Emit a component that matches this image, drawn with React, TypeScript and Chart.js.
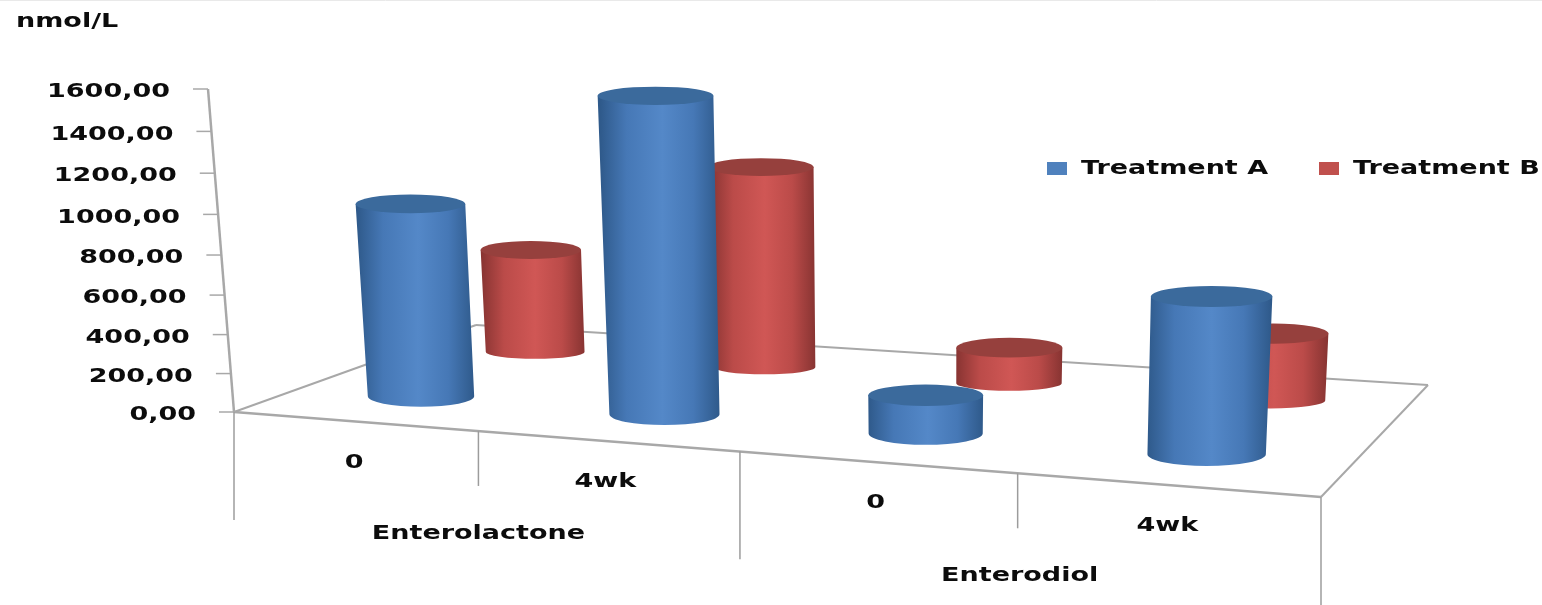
import React, { useEffect, useRef } from "react";
import { Chart, BarController, LinearScale, registerables } from "chart.js";

// Measured concentrations per compound and time point
const timePoints = ["0", "4wk", "0", "4wk"];
const compounds = ["Enterolactone", "Enterodiol"];
const treatmentA = [995, 1560, 190, 740];
const treatmentB = [575, 1075, 190, 345];
const unitLabel = "nmol/L";

const WIDTH = 1542;
const HEIGHT = 605;
const FONT = 'bold 20px "DejaVu Sans"';
const TEXT_STRETCH = 1.35;
const TEXT_COLOR = "#0c0c0c";
const FRAME_COLOR = "#a8a8a8";
const DIVIDER_COLOR = "#9c9c9c";

const blueShades = { edge: "#2f5a8b", mid: "#4678b6", light: "#5488c8", cap: "#3b6a9c", swatch: "#4f81bd" };
const redShades = { edge: "#883432", mid: "#bb4b49", light: "#d05755", cap: "#96403d", swatch: "#c0504d" };

type Pt = { x: number; y: number };
type Area = { left: number; right: number; top: number; bottom: number; width: number };

// Perspective map from the unit floor square (u along the front, v into the depth) to the canvas.
function floorOf(area: Area) {
  const fl = { x: area.left, y: area.bottom };
  const fr = { x: area.right, y: area.bottom + 85 };
  const br = { x: area.right + 107, y: area.bottom - 27 };
  const bl = { x: area.left + 242, y: area.bottom - 87 };
  const dx1 = fr.x - br.x, dx2 = bl.x - br.x, sx = fl.x - fr.x + br.x - bl.x;
  const dy1 = fr.y - br.y, dy2 = bl.y - br.y, sy = fl.y - fr.y + br.y - bl.y;
  const den = dx1 * dy2 - dx2 * dy1;
  const g = (sx * dy2 - dx2 * sy) / den;
  const h = (dx1 * sy - sx * dy1) / den;
  const a = fr.x - fl.x + g * fr.x, b = bl.x - fl.x + h * bl.x;
  const d = fr.y - fl.y + g * fr.y, e = bl.y - fl.y + h * bl.y;
  const project = (u: number, v: number) => {
    const w = 1 / (g * u + h * v + 1);
    return { x: (a * u + b * v + fl.x) * w, y: (d * u + e * v + fl.y) * w, w };
  };
  return { project, corners: [fl, fr, br, bl] as Pt[] };
}

function wideText(ctx: CanvasRenderingContext2D, text: string, x: number, y: number, align: CanvasTextAlign) {
  ctx.save();
  ctx.font = FONT;
  ctx.fillStyle = TEXT_COLOR;
  ctx.textBaseline = "middle";
  ctx.textAlign = align;
  ctx.translate(x, y + 2);
  ctx.scale(TEXT_STRETCH, 1);
  ctx.fillText(text, 0, 0);
  ctx.restore();
}

function strokeLine(ctx: CanvasRenderingContext2D, from: Pt, to: Pt, color: string, width: number) {
  ctx.strokeStyle = color;
  ctx.lineWidth = width;
  ctx.beginPath();
  ctx.moveTo(from.x, from.y);
  ctx.lineTo(to.x, to.y);
  ctx.stroke();
}

// Value axis standing on the floor corner: slightly foreshortened and leaning towards the viewer.
class WallScale extends LinearScale {
  static id = "wallLinear";
  static defaults = LinearScale.defaults;

  getPixelForDecimal(decimal: number) {
    const warp = -0.0576;
    return super.getPixelForDecimal(decimal / (1 - warp + warp * decimal));
  }
  axisX(pixel: number) {
    const { left, top, bottom } = this.chart.chartArea;
    return left - 26 * (bottom - pixel) / (bottom - top);
  }
  drawBorder() {
    const ctx = this.ctx;
    const { top, bottom } = this.chart.chartArea;
    ctx.save();
    strokeLine(ctx, { x: this.axisX(top), y: top }, { x: this.axisX(bottom), y: bottom }, FRAME_COLOR, 2.5);
    for (const tick of this.ticks) {
      const y = this.getPixelForValue(tick.value);
      const x = this.axisX(y);
      strokeLine(ctx, { x: x - 15, y }, { x, y }, FRAME_COLOR, 1.5);
    }
    ctx.restore();
  }
  drawLabels() {
    for (const tick of this.ticks) {
      const y = this.getPixelForValue(tick.value);
      wideText(this.ctx, String(tick.label), this.axisX(y) - 38, y + 1, "right");
    }
  }
}

// Bar controller whose elements are painted as shaded cylinders standing on the floor.
class CylinderController extends BarController {
  static id = "cylinder";
  static defaults = BarController.defaults;
  static overrides = BarController.overrides;

  draw() {
    const chart = this.chart;
    const ctx = chart.ctx;
    const area = chart.chartArea;
    const floor = floorOf(area);
    const depth = (this.index + 0.5) / chart.data.datasets.length;
    const shades = this.getDataset().shades;
    for (const bar of this.getMeta().data) {
      const foot = floor.project((bar.x - area.left) / area.width, depth);
      const rise = (bar.base - bar.y) * foot.w;
      const baseX = foot.x + 4;
      const topX = baseX + (baseX - 920) * 0.00011 * rise;
      const topY = foot.y - rise;
      const baseRx = (bar.width / 2) * foot.w;
      const topRx = baseRx * (1 + 0.00016 * rise);
      const baseRy = baseRx * (0.22 - 0.1 * depth);
      const topRy = topRx * (0.19 - 0.0001 * rise);

      const shade = ctx.createLinearGradient(Math.min(baseX, topX) - baseRx, 0, Math.max(baseX, topX) + baseRx, 0);
      shade.addColorStop(0, shades.edge);
      shade.addColorStop(0.22, shades.mid);
      shade.addColorStop(0.52, shades.light);
      shade.addColorStop(0.78, shades.mid);
      shade.addColorStop(1, shades.edge);

      ctx.save();
      ctx.fillStyle = shade;
      ctx.beginPath();
      ctx.moveTo(topX - topRx, topY);
      ctx.lineTo(baseX - baseRx, foot.y);
      ctx.ellipse(baseX, foot.y, baseRx, baseRy, 0, Math.PI, 0, true);
      ctx.lineTo(topX + topRx, topY);
      ctx.closePath();
      ctx.fill();
      ctx.fillStyle = shades.cap;
      ctx.beginPath();
      ctx.ellipse(topX, topY, topRx, topRy, 0, 0, Math.PI * 2);
      ctx.fill();
      ctx.restore();
    }
  }
}

Chart.register(...registerables, WallScale, CylinderController);

// Floor outline, category dividers, category labels, unit caption and legend.
const framePlugin = {
  id: "frame",
  beforeDatasetsDraw(chart: any) {
    const ctx = chart.ctx;
    const area = chart.chartArea;
    const floor = floorOf(area);
    const [fl, fr, br, bl] = floor.corners;
    ctx.save();
    strokeLine(ctx, { x: 0, y: 0.5 }, { x: WIDTH, y: 0.5 }, "#e9e9e9", 1);
    strokeLine(ctx, fl, fr, FRAME_COLOR, 2.5);
    strokeLine(ctx, fr, br, FRAME_COLOR, 2);
    strokeLine(ctx, br, bl, FRAME_COLOR, 2);
    strokeLine(ctx, bl, fl, FRAME_COLOR, 2);
    const count = timePoints.length;
    for (let i = 0; i <= count; i++) {
      const p = floor.project(i / count, 0);
      const drop = i % 2 === 0 ? 108 : 55;
      const x = p.x + (i === 2 ? 3 : i === 1 ? 2 : 0);
      strokeLine(ctx, { x, y: p.y }, { x, y: p.y + drop }, DIVIDER_COLOR, 1.5);
    }
    timePoints.forEach((label, i) => {
      const p = floor.project((i + 0.5) / count, 0);
      wideText(ctx, label, p.x + 1, p.y + 39, "center");
    });
    compounds.forEach((label, i) => {
      const p = floor.project((i + 0.5) / compounds.length, 0);
      wideText(ctx, label, p.x + 2, p.y + 101, "center");
    });
    wideText(ctx, unitLabel, 16, 20, "left");
    const legendX = [1047, 1319];
    chart.data.datasets.forEach((set: any, i: number) => {
      ctx.fillStyle = set.shades.swatch;
      ctx.fillRect(legendX[i], 162, 20, 13);
      wideText(ctx, set.label, legendX[i] + 34, 167, "left");
    });
    ctx.restore();
  },
};

export default function App() {
  const canvasRef = useRef<HTMLCanvasElement>(null);

  useEffect(() => {
    const chart = new Chart(canvasRef.current!, {
      type: "cylinder" as any,
      data: {
        labels: timePoints,
        datasets: [
          { label: "Treatment A", data: treatmentA, shades: blueShades, clip: false },
          { label: "Treatment B", data: treatmentB, shades: redShades, clip: false },
        ] as any,
      },
      options: {
        animation: false,
        responsive: false,
        events: [],
        layout: { padding: { top: 89, bottom: 193, right: 221, left: 0 } },
        datasets: { cylinder: { grouped: false, categoryPercentage: 0.4, barPercentage: 1 } } as any,
        plugins: { legend: { display: false }, tooltip: { enabled: false }, title: { display: false } },
        scales: {
          x: { type: "category", display: false, offset: true, grid: { display: false } },
          y: {
            type: "wallLinear" as any,
            min: 0,
            max: 1600,
            grid: { display: false },
            ticks: {
              stepSize: 200,
              autoSkip: false,
              callback: (value: any) => Number(value).toFixed(2).replace(".", ","),
            },
            afterFit: (scale: any) => {
              scale.width = 234;
            },
          },
        },
      },
      plugins: [framePlugin],
    });
    return () => chart.destroy();
  }, []);

  return (
    <div style={{ position: "fixed", left: 0, top: 0, width: WIDTH, height: HEIGHT, background: "#fff" }}>
      <canvas ref={canvasRef} width={WIDTH} height={HEIGHT} style={{ display: "block" }} />
    </div>
  );
}
